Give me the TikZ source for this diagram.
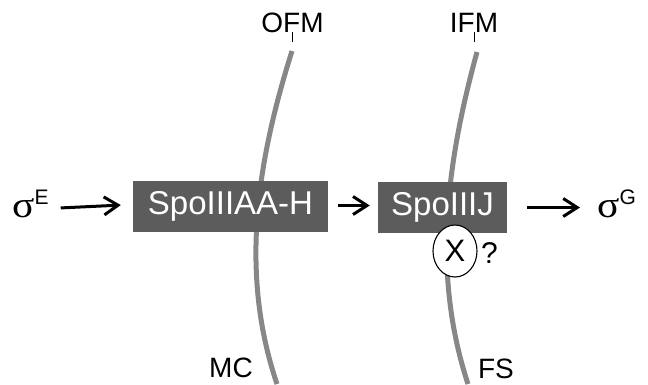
\documentclass[tikz,border=0pt]{standalone}
\usepackage{graphicx}
\usepackage{fontspec}
\setmainfont{Liberation Sans}
\newfontfamily\greekserif{Liberation Serif}
\usetikzlibrary{arrows.meta,shapes.geometric}

\definecolor{membrane}{gray}{0.53}
\definecolor{boxgray}{gray}{0.36}

% sigma factor with a raised letter
\newcommand{\sigmafactor}[1]{{\greekserif\fontsize{37}{37}\selectfont\scalebox{1.12}[1]{σ}}\raisebox{13pt}{\fontsize{21}{21}\selectfont #1}}

\begin{document}
\begin{tikzpicture}[x=1pt,y=-1pt,
  membr/.style={draw=membrane,line width=5pt},
  protein/.style={fill=boxgray,text=white,inner sep=0,font=\fontsize{33}{33}\selectfont},
  lab/.style={font=\fontsize{28}{28}\selectfont,inner sep=0,anchor=base},
  arr/.style={-{Straight Barb[length=14pt,width=18pt]},line width=3pt},
  sig/.style={anchor=base west,inner sep=0},
  tick/.style={line width=0.8pt}]
\useasboundingbox (0,0) rectangle (648,384);

% membranes
\draw[membr] (292,51) .. controls (256,165) and (240,275) .. (277,384);
\draw[membr] (477,52) .. controls (446,165) and (432,275) .. (468,384);

% membrane labels
\node[lab] (ofm) at (292.5,32) {OFM};
\node[lab] (ifm) at (474,32) {IFM};
\node[lab] (mc) at (231,377) {MC};
\node[lab] (fs) at (496,378) {FS};
\draw[tick] (ofm.south) -- ++(0,10);
\draw[tick] (ifm.south) -- ++(0,10);

% proteins
\node[protein,minimum width=195pt,minimum height=51pt] (aah) at (230.5,206.5) {SpoIIIAA-H};
\node[protein,minimum width=129pt,minimum height=51pt] (j) at (442.5,207.5) {SpoIIIJ};
\node[draw,ellipse,fill=white,line width=1.1pt,inner sep=0,
      minimum width=44pt,minimum height=52pt,font=\fontsize{31}{31}\selectfont] (x) at (455,251) {X};
\node[font=\fontsize{30}{30}\selectfont,inner sep=0,anchor=base west] (q) at (481,263) {?};

% sigma factors
\node[sig] (sE) at (12,217) {\sigmafactor{E}};
\node[sig] (sG) at (597,217) {\sigmafactor{G}};

% pathway arrows
\draw[arr,shorten <=12pt,shorten >=12pt] (aah.west -| sE.east) ++(0,2) -- ([yshift=2pt]aah.west);
\draw[arr,shorten <=10pt,shorten >=8pt] ([yshift=1pt]aah.east) -- ([yshift=1pt]aah.east -| j.west);
\draw[arr,shorten <=20pt,shorten >=17pt] (j.east) -- (j.east -| sG.west);
\end{tikzpicture}
\end{document}
